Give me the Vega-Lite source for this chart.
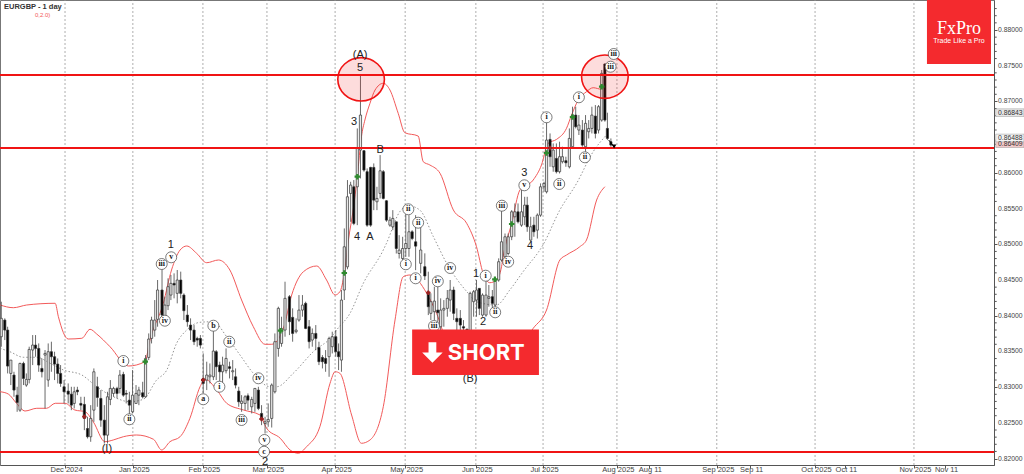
{"$schema":"https://vega.github.io/schema/vega-lite/v6.json","width":994,"height":465,"autosize":{"type":"none"},"padding":{"left":0,"top":0,"right":30,"bottom":9},"background":"white","config":{"view":{"stroke":"#777"}},
"datasets":{
"candles":[
{"t":0,"o":0.83706,"h":0.84196,"l":0.83566,"c":0.83963},{"t":1.1,"o":0.83939,"h":0.83963,"l":0.83659,"c":0.83799},{"t":2,"o":0.83799,"h":0.83846,"l":0.83192,"c":0.83295},{"t":3,"o":0.83192,"h":0.83379,"l":0.83029,"c":0.83379},{"t":4,"o":0.83169,"h":0.83215,"l":0.82865,"c":0.82959},{"t":5,"o":0.82888,"h":0.83005,"l":0.82655,"c":0.82786},{"t":5.9,"o":0.82678,"h":0.83342,"l":0.82655,"c":0.83332},{"t":7,"o":0.83332,"h":0.83356,"l":0.83029,"c":0.83122},{"t":7.9,"o":0.83029,"h":0.83192,"l":0.83005,"c":0.83108},{"t":8.8,"o":0.83108,"h":0.83566,"l":0.83052,"c":0.83528},{"t":9.9,"o":0.83519,"h":0.83729,"l":0.83309,"c":0.83589},{"t":10.8,"o":0.83589,"h":0.83729,"l":0.83426,"c":0.83542},{"t":11.8,"o":0.83542,"h":0.83612,"l":0.83215,"c":0.83309},{"t":12.8,"o":0.83262,"h":0.83402,"l":0.83136,"c":0.83215},{"t":13.8,"o":0.83449,"h":0.83519,"l":0.82702,"c":0.83472},{"t":14.8,"o":0.83099,"h":0.83612,"l":0.83005,"c":0.83496},{"t":15.8,"o":0.83496,"h":0.83636,"l":0.83215,"c":0.83426},{"t":16.8,"o":0.83426,"h":0.83496,"l":0.83099,"c":0.83323},{"t":17.8,"o":0.83323,"h":0.83402,"l":0.83052,"c":0.83192},{"t":18.7,"o":0.83192,"h":0.83309,"l":0.83005,"c":0.83052},{"t":19.8,"o":0.83005,"h":0.83099,"l":0.82772,"c":0.82935},{"t":21.1,"o":0.82945,"h":0.83052,"l":0.82772,"c":0.82902},{"t":22.1,"o":0.82902,"h":0.83005,"l":0.82678,"c":0.82748},{"t":23,"o":0.82772,"h":0.83005,"l":0.82702,"c":0.82935},{"t":24,"o":0.82959,"h":0.83005,"l":0.82888,"c":0.82935},{"t":25.1,"o":0.82772,"h":0.82865,"l":0.82678,"c":0.82748},{"t":26.2,"o":0.82758,"h":0.82865,"l":0.82398,"c":0.82562},{"t":27.2,"o":0.82421,"h":0.82585,"l":0.82281,"c":0.82305},{"t":28.2,"o":0.82305,"h":0.82748,"l":0.82235,"c":0.82562},{"t":29.2,"o":0.82678,"h":0.83262,"l":0.82515,"c":0.83215},{"t":30.3,"o":0.83005,"h":0.83145,"l":0.82725,"c":0.82856},{"t":31.4,"o":0.82842,"h":0.82959,"l":0.82445,"c":0.82538},{"t":32.5,"o":0.82538,"h":0.82748,"l":0.82211,"c":0.82328},{"t":33.5,"o":0.82328,"h":0.82935,"l":0.82211,"c":0.82865},{"t":34.4,"o":0.82828,"h":0.83099,"l":0.82748,"c":0.82982},{"t":35.4,"o":0.82912,"h":0.83005,"l":0.82865,"c":0.82982},{"t":36.5,"o":0.82982,"h":0.83005,"l":0.82842,"c":0.82912},{"t":37.4,"o":0.82982,"h":0.83239,"l":0.82912,"c":0.83169},{"t":38.5,"o":0.83178,"h":0.83215,"l":0.82865,"c":0.82888},{"t":39.4,"o":0.82912,"h":0.82959,"l":0.82772,"c":0.82902},{"t":40.4,"o":0.82818,"h":0.82935,"l":0.82515,"c":0.82748},{"t":41.4,"o":0.82655,"h":0.83239,"l":0.82632,"c":0.82888},{"t":42.5,"o":0.82772,"h":0.83029,"l":0.82772,"c":0.82912},{"t":43.4,"o":0.82888,"h":0.83005,"l":0.82748,"c":0.82959},{"t":44.6,"o":0.82921,"h":0.83075,"l":0.82842,"c":0.82865},{"t":45.5,"o":0.82865,"h":0.83449,"l":0.8285,"c":0.83402},{"t":46.5,"o":0.83416,"h":0.83752,"l":0.83379,"c":0.83673},{"t":47.4,"o":0.83682,"h":0.83986,"l":0.83612,"c":0.83939},{"t":48.4,"o":0.83799,"h":0.84219,"l":0.83706,"c":0.83939},{"t":49.3,"o":0.83949,"h":0.845,"l":0.83846,"c":0.8436},{"t":50.7,"o":0.8436,"h":0.84663,"l":0.83893,"c":0.84009},{"t":51.6,"o":0.83893,"h":0.84266,"l":0.83869,"c":0.84149},{"t":52.6,"o":0.8414,"h":0.84523,"l":0.84079,"c":0.84406},{"t":53.5,"o":0.84289,"h":0.8457,"l":0.84219,"c":0.84453},{"t":54.5,"o":0.84453,"h":0.84593,"l":0.84243,"c":0.8443},{"t":55.5,"o":0.84313,"h":0.8464,"l":0.84173,"c":0.845},{"t":56.6,"o":0.845,"h":0.84617,"l":0.84243,"c":0.84313},{"t":57.6,"o":0.84289,"h":0.84313,"l":0.83939,"c":0.8407},{"t":58.7,"o":0.84009,"h":0.84149,"l":0.83846,"c":0.83916},{"t":59.7,"o":0.83869,"h":0.83963,"l":0.83659,"c":0.83799},{"t":60.8,"o":0.83799,"h":0.83869,"l":0.83589,"c":0.83636},{"t":61.8,"o":0.83682,"h":0.83706,"l":0.83566,"c":0.83659},{"t":62.8,"o":0.83682,"h":0.83729,"l":0.83542,"c":0.83589},{"t":63.7,"o":0.83122,"h":0.83472,"l":0.82912,"c":0.83052},{"t":64.8,"o":0.83099,"h":0.83356,"l":0.82959,"c":0.83169},{"t":65.8,"o":0.83145,"h":0.83332,"l":0.83052,"c":0.83169},{"t":66.9,"o":0.83145,"h":0.83799,"l":0.83099,"c":0.83505},{"t":67.8,"o":0.83496,"h":0.83519,"l":0.83099,"c":0.83286},{"t":68.9,"o":0.83309,"h":0.83356,"l":0.83075,"c":0.83215},{"t":69.8,"o":0.83215,"h":0.83426,"l":0.83052,"c":0.83309},{"t":70.9,"o":0.8323,"h":0.83542,"l":0.83192,"c":0.83402},{"t":72,"o":0.83286,"h":0.83356,"l":0.83122,"c":0.83262},{"t":73,"o":0.83215,"h":0.83379,"l":0.83099,"c":0.8323},{"t":73.9,"o":0.83145,"h":0.83262,"l":0.82982,"c":0.83029},{"t":74.9,"o":0.82945,"h":0.83005,"l":0.82725,"c":0.82795},{"t":75.8,"o":0.82772,"h":0.82888,"l":0.82655,"c":0.82804},{"t":76.9,"o":0.82772,"h":0.82888,"l":0.82678,"c":0.82865},{"t":77.8,"o":0.82879,"h":0.82912,"l":0.82678,"c":0.82818},{"t":79,"o":0.82725,"h":0.82865,"l":0.82632,"c":0.82828},{"t":80,"o":0.82772,"h":0.82982,"l":0.82655,"c":0.82982},{"t":81.1,"o":0.82959,"h":0.83005,"l":0.82678,"c":0.82702},{"t":82.1,"o":0.82632,"h":0.82748,"l":0.82468,"c":0.82538},{"t":83.2,"o":0.82491,"h":0.82585,"l":0.82351,"c":0.82515},{"t":84.2,"o":0.82515,"h":0.82772,"l":0.82445,"c":0.82548},{"t":85.3,"o":0.82562,"h":0.83052,"l":0.82435,"c":0.83029},{"t":86.3,"o":0.82935,"h":0.83752,"l":0.82912,"c":0.83636},{"t":87.4,"o":0.83542,"h":0.84126,"l":0.83426,"c":0.84103},{"t":88.4,"o":0.83612,"h":0.83986,"l":0.83566,"c":0.83822},{"t":89.5,"o":0.83799,"h":0.84476,"l":0.83706,"c":0.84243},{"t":90.9,"o":0.84266,"h":0.84289,"l":0.83729,"c":0.83916},{"t":91.9,"o":0.83977,"h":0.84103,"l":0.83636,"c":0.83752},{"t":93,"o":0.83776,"h":0.83963,"l":0.83752,"c":0.83799},{"t":93.9,"o":0.83939,"h":0.84289,"l":0.83916,"c":0.84079},{"t":95,"o":0.84079,"h":0.84289,"l":0.83986,"c":0.84149},{"t":96,"o":0.84173,"h":0.84196,"l":0.83812,"c":0.83822},{"t":97.1,"o":0.83846,"h":0.83939,"l":0.83542,"c":0.83636},{"t":98.1,"o":0.83659,"h":0.83822,"l":0.83566,"c":0.83752},{"t":99.2,"o":0.83752,"h":0.83869,"l":0.83519,"c":0.83682},{"t":100.2,"o":0.83556,"h":0.83636,"l":0.83309,"c":0.83356},{"t":101.3,"o":0.83416,"h":0.83449,"l":0.83262,"c":0.83356},{"t":102.3,"o":0.83402,"h":0.83519,"l":0.83215,"c":0.83332},{"t":103.4,"o":0.83426,"h":0.83706,"l":0.83145,"c":0.83682},{"t":104.4,"o":0.83566,"h":0.83776,"l":0.83472,"c":0.83706},{"t":105.5,"o":0.83706,"h":0.83799,"l":0.83426,"c":0.83496},{"t":106.4,"o":0.83496,"h":0.83612,"l":0.83239,"c":0.83426},{"t":107.3,"o":0.83379,"h":0.8436,"l":0.83215,"c":0.84219},{"t":108.2,"o":0.8436,"h":0.85222,"l":0.8422,"c":0.84965},{"t":109.2,"o":0.84684,"h":0.85899,"l":0.8465,"c":0.85665},{"t":110.2,"o":0.85712,"h":0.85875,"l":0.85315,"c":0.85829},{"t":111.2,"o":0.85805,"h":0.85899,"l":0.85268,"c":0.85292},{"t":112.3,"o":0.85805,"h":0.86622,"l":0.85268,"c":0.86342},{"t":113.3,"o":0.86319,"h":0.8737,"l":0.85922,"c":0.86809},{"t":114.4,"o":0.8631,"h":0.86319,"l":0.86016,"c":0.86039},{"t":115.4,"o":0.86016,"h":0.86062,"l":0.85245,"c":0.85268},{"t":116.5,"o":0.86076,"h":0.86085,"l":0.85245,"c":0.85268},{"t":117.5,"o":0.86076,"h":0.86132,"l":0.85478,"c":0.85618},{"t":118.5,"o":0.85595,"h":0.85805,"l":0.85478,"c":0.85642},{"t":119.5,"o":0.85712,"h":0.86249,"l":0.85642,"c":0.86029},{"t":120.5,"o":0.86016,"h":0.86039,"l":0.85628,"c":0.85642},{"t":121.5,"o":0.85609,"h":0.85618,"l":0.85315,"c":0.85338},{"t":122.6,"o":0.85268,"h":0.85385,"l":0.85245,"c":0.85338},{"t":123.5,"o":0.85245,"h":0.85478,"l":0.85198,"c":0.85362},{"t":124.6,"o":0.85315,"h":0.85315,"l":0.84871,"c":0.84941},{"t":125.5,"o":0.84871,"h":0.85128,"l":0.84801,"c":0.84918},{"t":126.6,"o":0.84801,"h":0.85105,"l":0.84778,"c":0.84941},{"t":127.6,"o":0.84941,"h":0.85432,"l":0.84825,"c":0.85011},{"t":128.6,"o":0.84941,"h":0.85408,"l":0.84825,"c":0.85175},{"t":129.6,"o":0.85175,"h":0.85198,"l":0.85058,"c":0.85081},{"t":130.7,"o":0.85035,"h":0.85408,"l":0.84638,"c":0.84974},{"t":132.3,"o":0.84733,"h":0.85338,"l":0.84593,"c":0.8492},{"t":133.6,"o":0.84686,"h":0.84873,"l":0.845,"c":0.84556},{"t":134.7,"o":0.84336,"h":0.84616,"l":0.84009,"c":0.84126},{"t":135.5,"o":0.84033,"h":0.84313,"l":0.83939,"c":0.84196},{"t":136.6,"o":0.84056,"h":0.84406,"l":0.83939,"c":0.84205},{"t":137.7,"o":0.84079,"h":0.84406,"l":0.83846,"c":0.84042},{"t":138.6,"o":0.83846,"h":0.84243,"l":0.83706,"c":0.84079},{"t":139.6,"o":0.84079,"h":0.84219,"l":0.83846,"c":0.84103},{"t":140.7,"o":0.84103,"h":0.8436,"l":0.83986,"c":0.84243},{"t":141.6,"o":0.84219,"h":0.845,"l":0.84056,"c":0.8436},{"t":142.7,"o":0.8436,"h":0.84406,"l":0.83939,"c":0.84033},{"t":143.7,"o":0.83963,"h":0.84103,"l":0.83752,"c":0.83916},{"t":144.8,"o":0.83963,"h":0.84079,"l":0.83706,"c":0.83869},{"t":145.8,"o":0.83846,"h":0.83939,"l":0.83659,"c":0.83827},{"t":146.9,"o":0.83809,"h":0.83822,"l":0.83519,"c":0.83659},{"t":147.9,"o":0.83519,"h":0.84336,"l":0.83426,"c":0.84313},{"t":149,"o":0.84196,"h":0.8436,"l":0.83986,"c":0.84336},{"t":149.9,"o":0.84219,"h":0.845,"l":0.83986,"c":0.8436},{"t":150.8,"o":0.84383,"h":0.84383,"l":0.84009,"c":0.84103},{"t":151.8,"o":0.84009,"h":0.84313,"l":0.83986,"c":0.84289},{"t":152.9,"o":0.84009,"h":0.845,"l":0.83986,"c":0.84289},{"t":153.8,"o":0.84243,"h":0.8443,"l":0.84126,"c":0.84266},{"t":154.9,"o":0.84266,"h":0.8436,"l":0.84103,"c":0.84173},{"t":155.8,"o":0.84149,"h":0.84523,"l":0.84103,"c":0.845},{"t":156.9,"o":0.845,"h":0.84803,"l":0.84476,"c":0.84756},{"t":157.8,"o":0.8478,"h":0.85478,"l":0.84756,"c":0.85035},{"t":158.9,"o":0.84825,"h":0.85151,"l":0.84778,"c":0.85105},{"t":159.9,"o":0.84871,"h":0.85151,"l":0.84848,"c":0.85105},{"t":161,"o":0.85105,"h":0.85478,"l":0.85058,"c":0.85455},{"t":162,"o":0.85385,"h":0.85572,"l":0.85105,"c":0.85455},{"t":163,"o":0.85455,"h":0.85572,"l":0.85292,"c":0.85315},{"t":164.1,"o":0.85268,"h":0.85805,"l":0.85245,"c":0.85455},{"t":165.1,"o":0.85385,"h":0.85665,"l":0.85268,"c":0.85548},{"t":165.9,"o":0.85548,"h":0.85665,"l":0.85175,"c":0.85245},{"t":167,"o":0.85058,"h":0.85385,"l":0.85035,"c":0.85245},{"t":168,"o":0.85268,"h":0.85385,"l":0.85105,"c":0.85175},{"t":169.1,"o":0.85198,"h":0.85432,"l":0.85081,"c":0.85408},{"t":170.1,"o":0.85408,"h":0.85852,"l":0.85385,"c":0.85805},{"t":171.2,"o":0.85805,"h":0.85875,"l":0.85735,"c":0.85852},{"t":172,"o":0.85735,"h":0.86716,"l":0.85712,"c":0.86459},{"t":173.1,"o":0.86468,"h":0.86552,"l":0.86085,"c":0.86226},{"t":174.1,"o":0.86085,"h":0.86412,"l":0.86016,"c":0.86319},{"t":175.1,"o":0.86202,"h":0.86412,"l":0.85992,"c":0.86016},{"t":176.1,"o":0.86016,"h":0.86436,"l":0.85992,"c":0.86226},{"t":177,"o":0.86156,"h":0.86366,"l":0.86132,"c":0.86226},{"t":178.1,"o":0.8617,"h":0.86226,"l":0.86085,"c":0.86141},{"t":179.2,"o":0.86085,"h":0.86622,"l":0.86062,"c":0.86482},{"t":180.2,"o":0.86366,"h":0.86926,"l":0.8635,"c":0.86809},{"t":181.2,"o":0.86809,"h":0.86926,"l":0.86622,"c":0.86646},{"t":182.2,"o":0.86599,"h":0.86809,"l":0.8653,"c":0.86669},{"t":183.3,"o":0.86599,"h":0.86739,"l":0.86366,"c":0.86389},{"t":184.3,"o":0.86366,"h":0.86809,"l":0.86296,"c":0.86693},{"t":185.3,"o":0.86576,"h":0.86739,"l":0.86482,"c":0.86622},{"t":186.3,"o":0.86622,"h":0.86926,"l":0.86552,"c":0.86809},{"t":187.4,"o":0.86795,"h":0.86949,"l":0.86482,"c":0.86552},{"t":188.4,"o":0.86599,"h":0.86949,"l":0.86552,"c":0.86926},{"t":189.4,"o":0.86739,"h":0.8744,"l":0.86716,"c":0.87393},{"t":190.4,"o":0.87524,"h":0.87533,"l":0.86716,"c":0.86739},{"t":191.2,"o":0.86622,"h":0.86842,"l":0.86459,"c":0.86482},{"t":192.3,"o":0.86436,"h":0.86482,"l":0.86366,"c":0.86389}
],
"upper":[{"t":-0.4,"p":0.8415},{"t":3.8,"p":0.84112},{"t":8,"p":0.8415},{"t":17,"p":0.84174},{"t":18,"p":0.83987},{"t":21.1,"p":0.83674},{"t":25.4,"p":0.83684},{"t":28,"p":0.8381},{"t":30.1,"p":0.83744},{"t":34.3,"p":0.83566},{"t":40.1,"p":0.83296},{"t":45.3,"p":0.83356},{"t":46.9,"p":0.8366},{"t":51.1,"p":0.84174},{"t":53.7,"p":0.8464},{"t":56.4,"p":0.8492},{"t":58.5,"p":0.84976},{"t":61.6,"p":0.84874},{"t":64.8,"p":0.84742},{"t":68.5,"p":0.8478},{"t":72.1,"p":0.8464},{"t":75.8,"p":0.8422},{"t":79.5,"p":0.83846},{"t":83.2,"p":0.836},{"t":85.3,"p":0.836},{"t":89,"p":0.83824},{"t":91.6,"p":0.8429},{"t":95.3,"p":0.84616},{"t":99.5,"p":0.84696},{"t":102.6,"p":0.845},{"t":105.3,"p":0.8429},{"t":106.8,"p":0.84336},{"t":108.2,"p":0.84594},{"t":109.5,"p":0.8506},{"t":111,"p":0.8548},{"t":112.3,"p":0.85946},{"t":113.6,"p":0.86506},{"t":114.7,"p":0.8674},{"t":116.3,"p":0.86974},{"t":117.9,"p":0.8716},{"t":120.5,"p":0.87254},{"t":122.6,"p":0.8716},{"t":125.2,"p":0.86834},{"t":127.3,"p":0.86562},{"t":131.5,"p":0.86516},{"t":133.1,"p":0.86156},{"t":135.2,"p":0.8611},{"t":138.4,"p":0.85994},{"t":142.6,"p":0.8548},{"t":146.8,"p":0.85294},{"t":149.9,"p":0.84966},{"t":152,"p":0.84594},{"t":154.1,"p":0.84462},{"t":156.2,"p":0.845},{"t":157.8,"p":0.84686},{"t":158.3,"p":0.84826},{"t":161,"p":0.85294},{"t":163.6,"p":0.8576},{"t":167.8,"p":0.859},{"t":170.4,"p":0.8611},{"t":172.5,"p":0.86414},{"t":175.2,"p":0.8647},{"t":178.3,"p":0.86624},{"t":179.9,"p":0.8681},{"t":182,"p":0.8702},{"t":184.6,"p":0.87136},{"t":186.7,"p":0.87192},{"t":189.4,"p":0.8717},{"t":190.4,"p":0.8722}],
"middle":[{"t":-0.4,"p":0.83544},{"t":2.7,"p":0.83496},{"t":7,"p":0.83418},{"t":11.2,"p":0.83418},{"t":15.4,"p":0.83334},{"t":19.6,"p":0.8324},{"t":25.4,"p":0.8317},{"t":30.1,"p":0.83006},{"t":34.3,"p":0.8289},{"t":40.6,"p":0.82796},{"t":44.8,"p":0.8283},{"t":49,"p":0.831},{"t":52.2,"p":0.8324},{"t":55.3,"p":0.83614},{"t":58.5,"p":0.838},{"t":62.7,"p":0.83908},{"t":66.9,"p":0.83916},{"t":71.1,"p":0.83706},{"t":75.3,"p":0.8345},{"t":79.5,"p":0.83194},{"t":84.8,"p":0.83006},{"t":86.9,"p":0.83006},{"t":92.1,"p":0.83194},{"t":98.4,"p":0.83496},{"t":104.7,"p":0.8373},{"t":105.8,"p":0.838},{"t":110,"p":0.84034},{"t":114.2,"p":0.84454},{"t":120.5,"p":0.8492},{"t":121.5,"p":0.85014},{"t":125.7,"p":0.85456},{"t":128.4,"p":0.8554},{"t":132,"p":0.8548},{"t":136.3,"p":0.85106},{"t":140.5,"p":0.84734},{"t":147.3,"p":0.84314},{"t":149.9,"p":0.84196},{"t":156.2,"p":0.8415},{"t":160.4,"p":0.8436},{"t":164.6,"p":0.84616},{"t":171,"p":0.85},{"t":176.2,"p":0.8548},{"t":181.5,"p":0.85854},{"t":186.7,"p":0.86296},{"t":190.9,"p":0.8653}],
"lower":[{"t":-0.4,"p":0.82936},{"t":2.2,"p":0.82904},{"t":4.8,"p":0.82774},{"t":7.5,"p":0.82666},{"t":11.2,"p":0.82704},{"t":14.3,"p":0.82704},{"t":17,"p":0.82774},{"t":20.1,"p":0.82774},{"t":23.2,"p":0.8268},{"t":26.4,"p":0.82656},{"t":29,"p":0.82516},{"t":32.7,"p":0.82236},{"t":35.3,"p":0.8226},{"t":38.5,"p":0.82306},{"t":42.7,"p":0.8233},{"t":48,"p":0.8227},{"t":50.6,"p":0.8212},{"t":53.2,"p":0.82236},{"t":56.4,"p":0.82306},{"t":59.5,"p":0.82564},{"t":62.7,"p":0.83006},{"t":64.3,"p":0.8311},{"t":68,"p":0.8296},{"t":71.1,"p":0.82774},{"t":76.4,"p":0.8268},{"t":81.6,"p":0.8261},{"t":83.7,"p":0.82424},{"t":88,"p":0.82284},{"t":91.1,"p":0.8212},{"t":93.7,"p":0.82074},{"t":96.3,"p":0.82166},{"t":100.5,"p":0.82446},{"t":103.7,"p":0.83054},{"t":105.3,"p":0.83216},{"t":106.8,"p":0.83194},{"t":110.5,"p":0.8261},{"t":113.6,"p":0.82214},{"t":116.3,"p":0.8226},{"t":120.5,"p":0.82726},{"t":124.2,"p":0.8394},{"t":126.8,"p":0.84546},{"t":128.9,"p":0.8457},{"t":134.2,"p":0.84314},{"t":137.3,"p":0.84034},{"t":140.5,"p":0.8366},{"t":145.7,"p":0.83496},{"t":153,"p":0.83478},{"t":163.6,"p":0.83566},{"t":167.8,"p":0.83824},{"t":172,"p":0.8408},{"t":176.2,"p":0.8478},{"t":178.3,"p":0.8485},{"t":182.5,"p":0.84966},{"t":184.6,"p":0.8506},{"t":187.8,"p":0.8562},{"t":190.4,"p":0.85806}],
"circled":[{"t":38.5,"p":0.83366,"s":"i"},{"t":40.4,"p":0.8255,"s":"ii"},{"t":50.6,"p":0.84724,"s":"iii"},{"t":53.6,"p":0.84818,"s":"v"},{"t":51.6,"p":0.8393,"s":"iv"},{"t":63.7,"p":0.8283,"s":"a"},{"t":66.9,"p":0.8386,"s":"b"},{"t":68.8,"p":0.83006,"s":"i"},{"t":71.9,"p":0.83636,"s":"ii"},{"t":75.8,"p":0.8254,"s":"iii"},{"t":81.1,"p":0.83124,"s":"iv"},{"t":83,"p":0.8226,"s":"v"},{"t":82.9,"p":0.82096,"s":"c"},{"t":127.6,"p":0.8472,"s":"i"},{"t":130.7,"p":0.84524,"s":"i"},{"t":137.7,"p":0.84482,"s":"iv"},{"t":136.5,"p":0.83856,"s":"iii"},{"t":141.6,"p":0.84668,"s":"iv"},{"t":152.8,"p":0.8456,"s":"i"},{"t":155.8,"p":0.84048,"s":"ii"},{"t":159.9,"p":0.84756,"s":"iv"},{"t":128.4,"p":0.8549,"s":"ii"},{"t":131.5,"p":0.85302,"s":"ii"},{"t":157.9,"p":0.8554,"s":"iii"},{"t":165,"p":0.85826,"s":"v"},{"t":172,"p":0.86778,"s":"i"},{"t":176,"p":0.85844,"s":"ii"},{"t":182.2,"p":0.87058,"s":"i"},{"t":184.1,"p":0.86218,"s":"ii"},{"t":193.2,"p":0.87664,"s":"iii"},{"t":192.2,"p":0.87486,"s":"iii"}],
"plain":[{"t":113.2,"p":0.8765,"s":"(A)"},{"t":113.2,"p":0.87468,"s":"5"},{"t":111.3,"p":0.86712,"s":"3"},{"t":119.5,"p":0.8632,"s":"B"},{"t":112.2,"p":0.85102,"s":"4"},{"t":116.3,"p":0.85102,"s":"A"},{"t":53.5,"p":0.8499,"s":"1"},{"t":149.8,"p":0.84584,"s":"1"},{"t":152,"p":0.83912,"s":"2"},{"t":147.9,"p":0.83114,"s":"(B)"},{"t":165,"p":0.86,"s":"3"},{"t":166.8,"p":0.8498,"s":"4"},{"t":33.3,"p":0.82134,"s":"(I)"},{"t":83.2,"p":0.81952,"s":"2"}],
"months":[{"t":20.1},{"t":41.5},{"t":63.6},{"t":83.8},{"t":105.3},{"t":127.4},{"t":149.7},{"t":170.9},{"t":194.2},{"t":225.7},{"t":256.7},{"t":287.9}],
"green":[{"t":45.4,"p":0.83356},{"t":88.1,"p":0.8379},{"t":108.2,"p":0.84598},{"t":112.3,"p":0.85946},{"t":161,"p":0.85284},{"t":172,"p":0.86278},{"t":180.2,"p":0.86782},{"t":189.4,"p":0.87206},{"t":155.7,"p":0.8451}],
"redmarks":[{"t":26.2,"p":0.82586},{"t":82.1,"p":0.82554},{"t":134.7,"p":0.84322},{"t":63.7,"p":0.831},{"t":173.1,"p":0.86348}],
"hlines":[{"p":0.8737},{"p":0.86348},{"p":0.82092}],
"circles":[{"t":113.5,"p":0.8731},{"t":190.4,"p":0.87346}],
"boxes":[{"t1":129.6,"t2":169.6,"p1":0.83807,"p2":0.8317},{"t1":292,"t2":312.2,"p1":0.8842,"p2":0.87524}],
"minor":[{"p":0.821},{"p":0.822},{"p":0.823},{"p":0.824},{"p":0.826},{"p":0.827},{"p":0.828},{"p":0.829},{"p":0.831},{"p":0.832},{"p":0.833},{"p":0.834},{"p":0.836},{"p":0.837},{"p":0.838},{"p":0.839},{"p":0.841},{"p":0.842},{"p":0.843},{"p":0.844},{"p":0.846},{"p":0.847},{"p":0.848},{"p":0.849},{"p":0.851},{"p":0.852},{"p":0.853},{"p":0.854},{"p":0.856},{"p":0.857},{"p":0.858},{"p":0.859},{"p":0.861},{"p":0.862},{"p":0.863},{"p":0.864},{"p":0.866},{"p":0.867},{"p":0.868},{"p":0.869},{"p":0.871},{"p":0.872},{"p":0.873},{"p":0.874},{"p":0.876},{"p":0.877},{"p":0.878},{"p":0.879},{"p":0.881},{"p":0.882},{"p":0.883}],
"ylabels":[{"p":0.82,"s":"0.82000"},{"p":0.825,"s":"0.82500"},{"p":0.83,"s":"0.83000"},{"p":0.835,"s":"0.83500"},{"p":0.84,"s":"0.84000"},{"p":0.845,"s":"0.84500"},{"p":0.85,"s":"0.85000"},{"p":0.855,"s":"0.85500"},{"p":0.86,"s":"0.86000"},{"p":0.87,"s":"0.87000"},{"p":0.875,"s":"0.87500"},{"p":0.88,"s":"0.88000"}],
"tags":[{"p":0.86409,"p1":0.86355,"p2":0.86463,"s":"0.86409","f":"#f3c9c9"},{"p":0.86843,"p1":0.86789,"p2":0.86897,"s":"0.86843","f":"#e6e6e6"},{"p":0.86488,"p1":0.86434,"p2":0.86542,"s":"0.86488","f":"#f4f4f4"}]
},
"layer":[
{"data":{"name":"months"},"mark":{"type":"rule","color":"#999","strokeWidth":0.8,"strokeDash":[2,2]},"encoding":{"x":{"field":"t","type":"quantitative","scale":{"domain":[-0.41,313.15],"nice":false,"zero":false,"padding":0},"axis":{"title":"","titleOpacity":0,"orient":"bottom","grid":false,"values":[20.1,41.5,63.6,83.8,105.3,127.4,149.7,170.9,194.2,204.3,225.7,236.2,256.7,266.1,287.9,297.7],"labelExpr":"{'20.1':'Dec 2024','41.5':'Jan 2025','63.6':'Feb 2025','83.8':'Mar 2025','105.3':'Apr 2025','127.4':'May 2025','149.7':'Jun 2025','170.9':'Jul 2025','194.2':'Aug 2025','204.3':'Aug 11','225.7':'Sep 2025','236.2':'Sep 11','256.7':'Oct 2025','266.1':'Oct 11','287.9':'Nov 2025','297.7':'Nov 11'}[datum.value]","labelFont":"Liberation Sans","labelFontSize":7.5,"labelColor":"#444","labelBaseline":"middle","labelPadding":1,"labelOffset":1,"labelOverlap":false,"labelFlush":false,"labelBound":false,"tickSize":3,"tickColor":"#555","domainColor":"#555"}},
"y":{"datum":0.8191,"type":"quantitative","scale":{"domain":[0.8191,0.8842],"nice":false,"zero":false,"padding":0},"axis":{"title":"","titleOpacity":0,"orient":"right","grid":false,"values":[0.82,0.825,0.83,0.835,0.84,0.845,0.85,0.855,0.86,0.865,0.87,0.875,0.88],"labels":false,"tickSize":3,"tickColor":"#555","domainColor":"#555"}},"y2":{"datum":0.8842}}},
{"data":{"name":"minor"},"mark":{"type":"rule","color":"#555","strokeWidth":1},"encoding":{"x":{"datum":313.15,"type":"quantitative"},"x2":{"datum":314},"y":{"field":"p","type":"quantitative"}}},
{"data":{"name":"ylabels"},"mark":{"type":"text","font":"Liberation Sans","fontSize":6.8,"color":"#444","baseline":"middle","align":"left"},"encoding":{"x":{"datum":314.4,"type":"quantitative"},"y":{"field":"p","type":"quantitative"},"text":{"field":"s"}}},
{"data":{"name":"upper"},"mark":{"type":"line","color":"#f25a5a","strokeWidth":1,"interpolate":"monotone"},"encoding":{"x":{"field":"t","type":"quantitative"},"y":{"field":"p","type":"quantitative"}}},
{"data":{"name":"lower"},"mark":{"type":"line","color":"#f25a5a","strokeWidth":1,"interpolate":"monotone"},"encoding":{"x":{"field":"t","type":"quantitative"},"y":{"field":"p","type":"quantitative"}}},
{"data":{"name":"middle"},"mark":{"type":"line","color":"#777","strokeWidth":0.8,"strokeDash":[1.5,2],"interpolate":"monotone"},"encoding":{"x":{"field":"t","type":"quantitative"},"y":{"field":"p","type":"quantitative"}}},
{"data":{"name":"candles"},"mark":{"type":"rule","color":"#444","strokeWidth":0.8},"encoding":{"x":{"field":"t","type":"quantitative"},"y":{"field":"l","type":"quantitative"},"y2":{"field":"h"}}},
{"data":{"name":"candles"},"mark":{"type":"bar","size":2.2,"orient":"vertical","stroke":"#333","strokeWidth":0.7},"encoding":{"x":{"field":"t","type":"quantitative"},"y":{"field":"o","type":"quantitative"},"y2":{"field":"c"},"fill":{"condition":{"test":"datum.c<datum.o","value":"#000"},"value":"#e8e8e8"}}},
{"data":{"name":"hlines"},"mark":{"type":"rule","color":"#f01414","strokeWidth":2},"encoding":{"y":{"field":"p","type":"quantitative"}}},
{"data":{"name":"circles"},"mark":{"type":"point","shape":"M-1,0 A1,0.93 0 1,0 1,0 A1,0.93 0 1,0 -1,0 Z","size":2172,"filled":true,"fill":"#f01414","fillOpacity":0.15,"stroke":"#f01414","strokeWidth":1.6,"strokeOpacity":1,"opacity":1},"encoding":{"x":{"field":"t","type":"quantitative"},"y":{"field":"p","type":"quantitative"}}},
{"data":{"name":"green"},"mark":{"type":"point","shape":"cross","filled":true,"size":30,"color":"#2e8b2e","opacity":1},"encoding":{"x":{"field":"t","type":"quantitative"},"y":{"field":"p","type":"quantitative"}}},
{"data":{"name":"redmarks"},"mark":{"type":"point","shape":"cross","filled":true,"size":20,"color":"#a02020","opacity":1},"encoding":{"x":{"field":"t","type":"quantitative"},"y":{"field":"p","type":"quantitative"}}},
{"data":{"values":[{"t":191.6,"t2":193.4,"p":0.8646,"p2":0.8636}]},"mark":{"type":"rule","color":"#000","strokeWidth":1},"encoding":{"x":{"field":"t","type":"quantitative"},"x2":{"field":"t2"},"y":{"field":"p","type":"quantitative"},"y2":{"field":"p2"}}},
{"data":{"values":[{"t":193.3,"p":0.8637}]},"mark":{"type":"point","shape":"triangle-down","filled":true,"size":22,"color":"#000","opacity":1},"encoding":{"x":{"field":"t","type":"quantitative"},"y":{"field":"p","type":"quantitative"}}},
{"data":{"name":"circled"},"mark":{"type":"point","shape":"circle","size":121,"filled":true,"fill":"#fff","stroke":"#444","strokeWidth":0.7,"opacity":1},"encoding":{"x":{"field":"t","type":"quantitative"},"y":{"field":"p","type":"quantitative"}}},
{"data":{"name":"circled"},"mark":{"type":"text","font":"Liberation Serif","fontSize":8,"fontWeight":"bold","color":"#222","baseline":"middle","align":"center"},"encoding":{"x":{"field":"t","type":"quantitative"},"y":{"field":"p","type":"quantitative"},"text":{"field":"s"}}},
{"data":{"name":"plain"},"mark":{"type":"text","font":"Liberation Sans","fontSize":11,"color":"#222","baseline":"middle","align":"center"},"encoding":{"x":{"field":"t","type":"quantitative"},"y":{"field":"p","type":"quantitative"},"text":{"field":"s"}}},
{"data":{"name":"boxes"},"mark":{"type":"rect","fill":"#f42a2e"},"encoding":{"x":{"field":"t1","type":"quantitative"},"x2":{"field":"t2"},"y":{"field":"p1","type":"quantitative"},"y2":{"field":"p2"}}},
{"data":{"values":[{"t":153,"p":0.83485,"s":"SHORT"}]},"mark":{"type":"text","font":"Inter","fontWeight":"bold","fontSize":22,"color":"#fff","baseline":"middle","align":"center"},"encoding":{"x":{"field":"t","type":"quantitative"},"y":{"field":"p","type":"quantitative"},"text":{"field":"s"}}},
{"data":{"values":[{"t":136,"p":0.83485}]},"mark":{"type":"point","shape":"M-0.38,-1 L0.38,-1 L0.38,0 L1,0 L0,1 L-1,0 L-0.38,0 Z","size":420,"filled":true,"color":"#fff","opacity":1},"encoding":{"x":{"field":"t","type":"quantitative"},"y":{"field":"p","type":"quantitative"}}},
{"data":{"values":[{"t":302.1,"p":0.88014,"s":"FxPro"}]},"mark":{"type":"text","font":"Liberation Serif","fontSize":18,"color":"#fff","baseline":"middle","align":"center"},"encoding":{"x":{"field":"t","type":"quantitative"},"y":{"field":"p","type":"quantitative"},"text":{"field":"s"}}},
{"data":{"values":[{"t":302.1,"p":0.87846,"s":"Trade Like a Pro"}]},"mark":{"type":"text","font":"Liberation Sans","fontSize":7,"color":"#fff","baseline":"middle","align":"center"},"encoding":{"x":{"field":"t","type":"quantitative"},"y":{"field":"p","type":"quantitative"},"text":{"field":"s"}}},
{"data":{"values":[{"t":0.85,"p":0.88322,"s":"EURGBP - 1 day"}]},"mark":{"type":"text","font":"Liberation Sans","fontWeight":"bold","fontSize":7.5,"color":"#333","baseline":"middle","align":"left"},"encoding":{"x":{"field":"t","type":"quantitative"},"y":{"field":"p","type":"quantitative"},"text":{"field":"s"}}},
{"data":{"values":[{"t":10.6,"p":0.8821,"s":"0,2.0)"}]},"mark":{"type":"text","font":"Liberation Sans","fontSize":6,"color":"#f25a5a","baseline":"middle","align":"left"},"encoding":{"x":{"field":"t","type":"quantitative"},"y":{"field":"p","type":"quantitative"},"text":{"field":"s"}}},
{"data":{"name":"tags"},"mark":{"type":"rect","stroke":"#999","strokeWidth":0.5},"encoding":{"x":{"datum":313.7,"type":"quantitative"},"x2":{"datum":322.6},"y":{"field":"p1","type":"quantitative"},"y2":{"field":"p2"},"fill":{"field":"f","type":"nominal","scale":null}}},
{"data":{"name":"tags"},"mark":{"type":"text","font":"Liberation Sans","fontSize":6.8,"color":"#333","baseline":"middle","align":"left"},"encoding":{"x":{"datum":314.4,"type":"quantitative"},"y":{"field":"p","type":"quantitative"},"text":{"field":"s"}}}
]}
